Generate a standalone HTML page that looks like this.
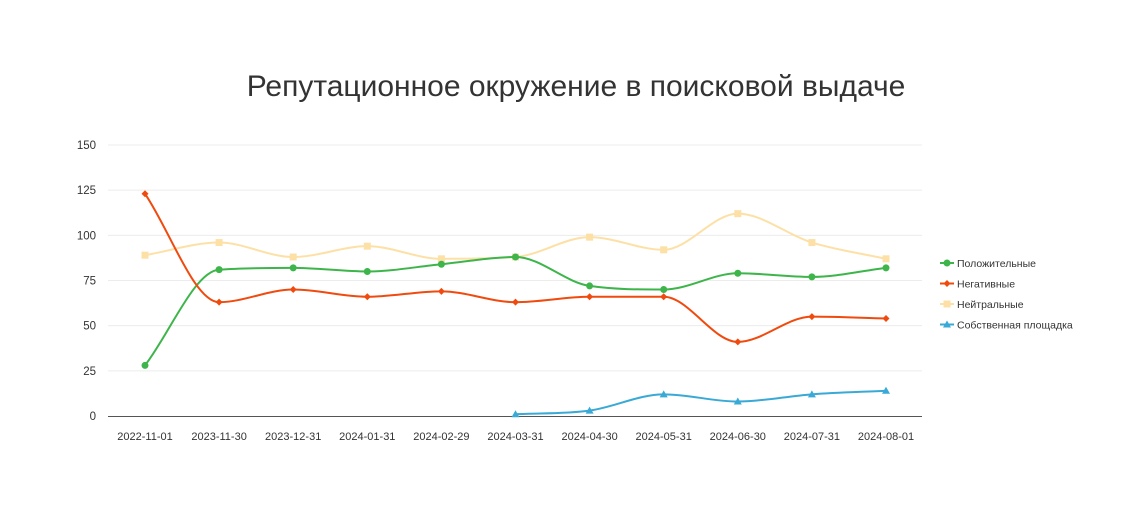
<!DOCTYPE html>
<html><head><meta charset="utf-8"><style>
body{margin:0;background:#fff;}
svg text{font-family:"Liberation Sans",sans-serif;}
</style></head><body>
<svg id="c" width="1140" height="520" xmlns="http://www.w3.org/2000/svg">
<text x="576" y="96" text-anchor="middle" font-size="30" fill="#333">Репутационное окружение в поисковой выдаче</text>
<g id="grid"></g><g id="series"></g><g id="legend"></g>
</svg>
<script>
const categories=["2022-11-01","2023-11-30","2023-12-31","2024-01-31","2024-02-29","2024-03-31","2024-04-30","2024-05-31","2024-06-30","2024-07-31","2024-08-01"];
const positive=[28,81,82,80,84,88,72,70,79,77,82];
const negative=[123,63,70,66,69,63,66,66,41,55,54];
const neutral=[89,96,88,94,87,88,99,92,112,96,87];
const own=[null,null,null,null,null,1,3,12,8,12,14];
const yTicks=[0,25,50,75,100,125,150];
const seriesNames=["Положительные","Негативные","Нейтральные","Собственная площадка"];
const NS="http://www.w3.org/2000/svg";
const x=i=>145+i*(886-145)/(categories.length-1);
const y=v=>416-v*(416-145)/150;
function el(t,a,p){const e=document.createElementNS(NS,t);for(const k in a)e.setAttribute(k,a[k]);p.appendChild(e);return e;}
const grid=document.getElementById('grid'),ser=document.getElementById('series'),leg=document.getElementById('legend');
yTicks.forEach(v=>{
  if(v>0){const l=el('line',{x1:108,x2:922,y1:y(v),y2:y(v),stroke:'#ececec'},grid);
  
  }
  const t=el('text',{x:96,y:y(v)+4,'text-anchor':'end','font-size':11.5,fill:'#333'},grid);t.textContent=v;
  
  
});
const ax=el('line',{x1:108,x2:922,y1:416.5,y2:416.5,stroke:'#555'},grid);


categories.forEach((c,i)=>{const t=el('text',{x:x(i),y:440,'text-anchor':'middle','font-size':11,fill:'#333'},grid);t.textContent=c;
  
  });
// monotone cubic
function path(pts){const n=pts.length;const d=[],m=new Array(n);
  for(let i=0;i<n-1;i++)d.push((pts[i+1][1]-pts[i][1])/(pts[i+1][0]-pts[i][0]));
  m[0]=d[0];m[n-1]=d[n-2];
  for(let i=1;i<n-1;i++){m[i]=(d[i-1]*d[i]<=0)?0:(d[i-1]+d[i])/2;}
  for(let i=0;i<n-1;i++){if(d[i]===0){m[i]=0;m[i+1]=0;continue;}
    const a=m[i]/d[i],b=m[i+1]/d[i],s=a*a+b*b;if(s>9){const t=3/Math.sqrt(s);m[i]=t*a*d[i];m[i+1]=t*b*d[i];}}
  let s='M'+pts[0][0]+','+pts[0][1];
  for(let i=0;i<n-1;i++){const h=(pts[i+1][0]-pts[i][0])/3;
    s+=` C${pts[i][0]+h},${pts[i][1]+m[i]*h} ${pts[i+1][0]-h},${pts[i+1][1]-m[i+1]*h} ${pts[i+1][0]},${pts[i+1][1]}`;}
  return s;}
function marker(type,cx,cy,col,g){
  if(type==='circle')return el('circle',{cx,cy,r:3.5,fill:col},g);
  if(type==='diamond')return el('path',{d:`M${cx},${cy-3.5}L${cx+3.5},${cy}L${cx},${cy+3.5}L${cx-3.5},${cy}Z`,fill:col},g);
  if(type==='square')return el('rect',{x:cx-3.5,y:cy-3.5,width:7,height:7,fill:col},g);
  return el('path',{d:`M${cx},${cy-4}L${cx+4},${cy+3}L${cx-4},${cy+3}Z`,fill:col},g);}
const defs=[[positive,'#3db54a','circle'],[negative,'#f04a0e','diamond'],[neutral,'#fde0a6','square'],[own,'#39a9d6','triangle']];
const order=[2,0,1,3];
order.forEach(si=>{const [data,col,mk]=defs[si];const g=el('g',{},ser);
  
  
  const pts=[];data.forEach((v,i)=>{if(v!==null)pts.push([x(i),y(v)]);});
  el('path',{d:path(pts),fill:'none',stroke:col,'stroke-width':2},g);
  pts.forEach(p=>{const m=marker(mk,p[0],p[1],col,g);
    
    });
});
seriesNames.forEach((n,i)=>{const col=defs[i][1];const cy=263+i*20.5;const g=el('g',{},leg);
  
  
  el('line',{x1:940,x2:954,y1:cy,y2:cy,stroke:col,'stroke-width':2},g);
  marker(defs[i][2],947,cy,col,g);
  const t=el('text',{x:957,y:cy+4,'font-size':10.5,fill:'#333'},g);t.textContent=n;});
</script>
</body></html>
